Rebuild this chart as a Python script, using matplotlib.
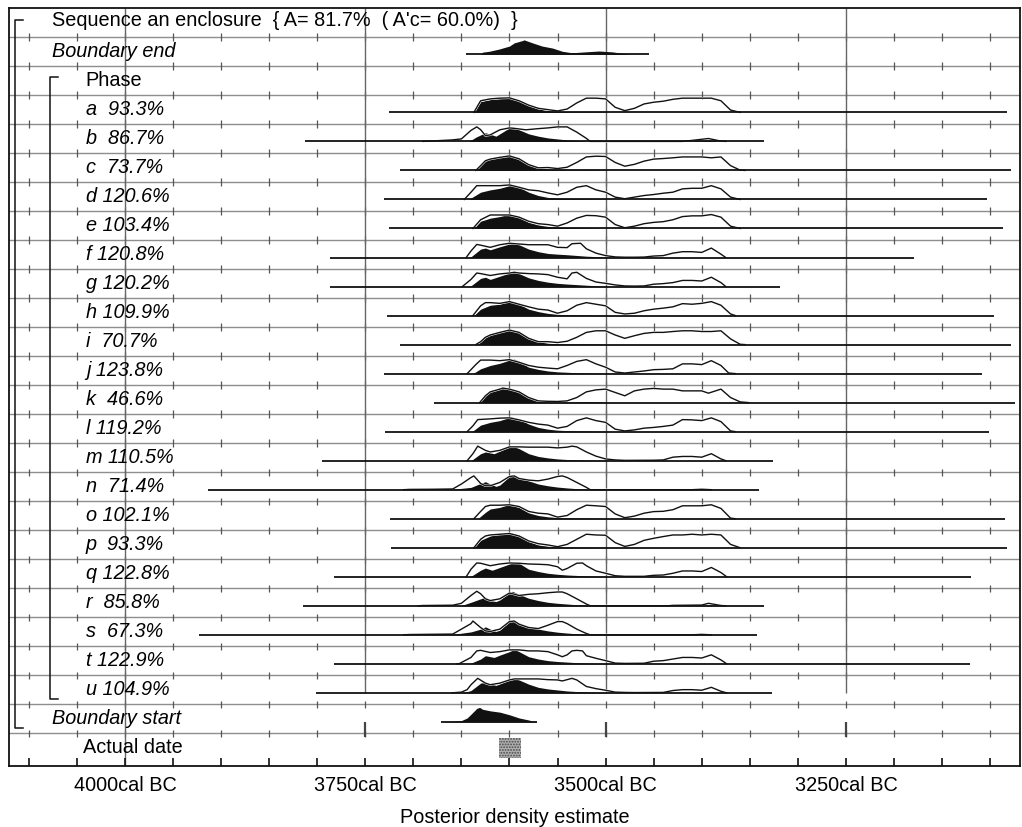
import numpy as np
import matplotlib.pyplot as plt
import matplotlib.patheffects as pe
from matplotlib.transforms import blended_transform_factory

plt.rcParams["font.family"] = ["Liberation Sans", "DejaVu Sans"]
plt.rcParams["hatch.linewidth"] = 0.9

# ============================================================
# DATA  (calendar years BC, heights relative to row maximum)
# ============================================================

SEQUENCE_TITLE = "Sequence an enclosure  { A= 81.7%  ( A'c= 60.0%)  }"

BOUNDARY_END_RANGE = (3645, 3455)
BOUNDARY_END = [(3630, 0), (3628, .15), (3621, .21), (3611, .36), (3600, .57), (3595, .79),
                (3586, .96), (3585, 1.0), (3576, .79), (3566, .57), (3555, .43), (3545, .21),
                (3535, .11), (3521, .17), (3507, .23), (3493, .17), (3479, .04), (3472, 0)]

BOUNDARY_START_RANGE = (3671, 3571)
BOUNDARY_START = [(3671, 0), (3659, .03), (3650, .09), (3644, .27), (3640, .53), (3634, .93),
                  (3631, 1.0), (3628, .87), (3620, .76), (3610, .67), (3600, .49), (3590, .27),
                  (3580, .13), (3575, .04), (3571, 0)]

ACTUAL_DATE = (3611, 3588)

PHASE_NAMES = list("abcdefghijklmnopqrstu")
AGREEMENT = [93.3, 86.7, 73.7, 120.6, 103.4, 120.8, 120.2, 109.9, 70.7, 123.8, 46.6,
             119.2, 110.5, 71.4, 102.1, 93.3, 122.8, 85.8, 67.3, 122.9, 104.9]
RANGE_START = [3725, 3813, 3714, 3730, 3725, 3787, 3787, 3727, 3714, 3731, 3678,
               3729, 3795, 3914, 3724, 3723, 3783, 3815, 3923, 3782, 3801]
RANGE_END = [3082, 3335, 3078, 3103, 3087, 3179, 3319, 3096, 3078, 3108, 3074,
             3101, 3326, 3340, 3085, 3082, 3120, 3335, 3342, 3121, 3327]

A_PRIOR = [(3637, 0), (3630, .80), (3620, .93), (3610, .98), (3600, 1.0), (3590, .80), (3580, .50),
           (3570, .28), (3560, .19), (3550, .10), (3540, .23), (3530, .65), (3520, .98), (3510, .98),
           (3500, .93), (3490, .35), (3480, .12), (3470, .28), (3460, .58), (3450, .70), (3440, .77),
           (3430, .90), (3420, .98), (3410, .98), (3400, .98), (3390, .98), (3380, .80), (3370, .16),
           (3360, 0)]
A_POST = [(3637, 0), (3630, .74), (3620, .88), (3610, .95), (3600, 1.0), (3590, .77), (3580, .47),
          (3570, .25), (3560, .12), (3550, .07), (3540, .05), (3530, .04), (3510, .04), (3500, .02),
          (3495, 0)]

B_PRIOR = [(3690, 0), (3660, .10), (3650, .17), (3640, .76), (3634, 1.0), (3630, .81), (3625, .40),
           (3620, .45), (3610, .80), (3600, .93), (3595, .90), (3583, .80), (3570, .88), (3560, .93),
           (3550, 1.0), (3540, 1.0), (3530, .64), (3520, .21), (3516, 0), (3420, 0), (3410, .07),
           (3393, .20), (3380, .02), (3375, 0)]
B_POST = [(3642, 0), (3635, .29), (3625, .60), (3614, .36), (3600, .93), (3597, 1.0), (3580, .52),
          (3570, .36), (3560, .24), (3550, .17), (3540, .10), (3530, .06), (3520, .02), (3510, 0),
          (3435, 0), (3430, .05), (3400, .05), (3393, .10), (3380, 0)]

C_PRIOR = [(3635, 0), (3630, .33), (3625, .67), (3620, .78), (3610, .90), (3600, 1.0), (3590, .80),
           (3580, .40), (3570, .18), (3560, .20), (3550, .13), (3540, .22), (3530, .55), (3520, .93),
           (3510, .98), (3500, .96), (3490, .55), (3480, .29), (3470, .42), (3460, .64), (3450, .78),
           (3440, .82), (3430, .87), (3420, .93), (3410, .93), (3400, .93), (3390, .87), (3380, .93),
           (3370, .33), (3360, .02), (3355, 0)]
C_POST = [(3635, 0), (3630, .33), (3625, .67), (3620, .78), (3610, .90), (3600, 1.0), (3590, .80),
          (3580, .40), (3570, .18), (3560, .10), (3550, .06), (3540, .05), (3530, .04), (3520, .05),
          (3510, .05), (3500, .02), (3495, 0)]

D_PRIOR = [(3647, 0), (3640, .50), (3634, .95), (3620, .95), (3610, .95), (3600, 1.0), (3590, .84),
           (3580, .66), (3570, .60), (3560, .45), (3550, .32), (3540, .50), (3530, .84), (3520, .95),
           (3510, .66), (3500, .50), (3490, .16), (3480, .05), (3470, .16), (3460, .27), (3450, .34),
           (3440, .43), (3430, .50), (3420, .73), (3410, .77), (3400, .77), (3390, .95), (3380, .73),
           (3370, .16), (3360, 0)]
D_POST = [(3642, 0), (3640, .10), (3630, .50), (3620, .66), (3610, .77), (3600, .95), (3595, 1.0),
          (3590, .84), (3580, .50), (3570, .27), (3560, .14), (3550, .08), (3540, .06), (3530, .05),
          (3520, .04), (3510, .03), (3500, .02), (3495, 0)]

E_PRIOR = [(3638, 0), (3630, .60), (3620, .93), (3610, .93), (3600, .93), (3590, .78), (3580, .50),
           (3570, .33), (3560, .27), (3550, .16), (3540, .38), (3530, .71), (3520, .90), (3510, .88),
           (3500, .78), (3490, .27), (3480, .05), (3470, .16), (3460, .33), (3450, .42), (3440, .47),
           (3430, .60), (3420, .82), (3410, .87), (3400, .87), (3390, .96), (3380, .78), (3370, .16),
           (3360, 0)]
E_POST = [(3637, 0), (3630, .50), (3620, .71), (3610, .82), (3600, 1.0), (3590, .78), (3580, .42),
          (3570, .24), (3560, .14), (3550, .09), (3540, .06), (3530, .05), (3520, .04), (3510, .03),
          (3500, .02), (3495, 0)]

F_PRIOR = [(3645, 0), (3640, .45), (3634, .90), (3630, .85), (3620, .70), (3610, .88), (3600, .98),
           (3590, .93), (3580, .88), (3570, .88), (3560, .88), (3550, .70), (3540, .68), (3535, .95),
           (3526, .98), (3520, .60), (3510, .30), (3500, .13), (3490, .04), (3480, .02), (3470, .02),
           (3460, .03), (3450, .10), (3440, .13), (3430, .30), (3420, .40), (3410, .40), (3400, .35),
           (3390, .65), (3380, .23), (3375, 0)]
F_POST = [(3642, 0), (3640, .05), (3630, .58), (3625, .65), (3620, .53), (3610, .74), (3600, .93),
          (3595, 1.0), (3590, .88), (3580, .58), (3570, .40), (3560, .28), (3550, .23), (3540, .19),
          (3530, .14), (3520, .09), (3510, .06), (3500, .03), (3495, 0)]

G_PRIOR = [(3649, 0), (3640, .49), (3634, .93), (3630, .89), (3620, .76), (3610, .87), (3600, .93),
           (3595, .98), (3590, .93), (3580, .89), (3570, .87), (3560, .82), (3550, .64), (3540, .53),
           (3535, .93), (3530, .98), (3520, .56), (3510, .31), (3500, .22), (3490, .11), (3480, .04),
           (3470, .03), (3460, .04), (3450, .16), (3440, .20), (3430, .27), (3420, .42), (3410, .42),
           (3400, .38), (3390, .64), (3380, .27), (3375, 0)]
G_POST = [(3642, 0), (3640, .05), (3630, .56), (3625, .64), (3620, .49), (3610, .71), (3600, .93),
          (3595, 1.0), (3590, .89), (3580, .60), (3570, .42), (3560, .30), (3550, .22), (3540, .17),
          (3530, .13), (3520, .09), (3510, .05), (3500, .02), (3495, 0)]

H_PRIOR = [(3638, 0), (3630, .67), (3625, .89), (3620, .89), (3610, .84), (3600, .96), (3590, .78),
           (3580, .60), (3570, .44), (3560, .38), (3550, .16), (3540, .33), (3530, .71), (3520, .89),
           (3510, .78), (3500, .67), (3490, .22), (3480, .11), (3470, .16), (3460, .33), (3450, .44),
           (3440, .51), (3430, .60), (3420, .82), (3410, .78), (3400, .84), (3390, .96), (3380, .71),
           (3370, .11), (3365, 0)]
H_POST = [(3637, 0), (3630, .44), (3620, .71), (3610, .78), (3600, 1.0), (3590, .78), (3580, .44),
          (3570, .27), (3560, .15), (3550, .08), (3540, .06), (3530, .05), (3520, .04), (3510, .03),
          (3500, .02), (3495, 0)]

I_PRIOR = [(3635, 0), (3630, .20), (3625, .50), (3620, .66), (3610, .84), (3600, 1.0), (3590, .84),
           (3580, .43), (3570, .20), (3560, .20), (3550, .14), (3540, .23), (3530, .50), (3520, .84),
           (3510, .95), (3500, .95), (3490, .66), (3480, .43), (3470, .61), (3460, .77), (3450, .84),
           (3440, .84), (3430, .90), (3420, .95), (3410, .95), (3400, .90), (3390, .90), (3380, .95),
           (3370, .39), (3360, .02), (3355, 0)]
I_POST = [(3635, 0), (3630, .20), (3625, .50), (3620, .66), (3610, .84), (3600, 1.0), (3590, .84),
          (3580, .43), (3570, .20), (3560, .09), (3550, .05), (3540, .04), (3530, .04), (3520, .05),
          (3510, .04), (3500, .02), (3495, 0)]

J_PRIOR = [(3644, 0), (3635, .62), (3630, .93), (3620, .93), (3610, .89), (3600, .96), (3590, .78),
           (3580, .56), (3570, .44), (3560, .38), (3550, .33), (3540, .56), (3530, .84), (3520, .96),
           (3510, .67), (3500, .44), (3490, .11), (3480, .04), (3470, .11), (3460, .18), (3450, .27),
           (3440, .29), (3430, .33), (3420, .67), (3410, .67), (3400, .62), (3390, .89), (3380, .56),
           (3372, .04), (3365, 0)]
J_POST = [(3638, 0), (3630, .33), (3620, .56), (3610, .71), (3600, .93), (3595, 1.0), (3590, .84),
          (3580, .44), (3570, .29), (3560, .18), (3550, .12), (3540, .09), (3530, .06), (3520, .04),
          (3510, .03), (3500, .02), (3495, 0)]

K_PRIOR = [(3631, 0), (3625, .47), (3620, .74), (3610, .93), (3607, 1.0), (3600, .93), (3590, .74),
           (3580, .35), (3570, .12), (3560, .09), (3550, .08), (3540, .12), (3530, .35), (3520, .74),
           (3510, .88), (3500, .93), (3490, .70), (3480, .47), (3470, .81), (3460, .93), (3450, .98),
           (3440, .93), (3430, .93), (3420, .81), (3410, .81), (3400, .81), (3393, .65), (3380, .93),
           (3370, .35), (3360, .05), (3351, 0)]
K_POST = [(3631, 0), (3625, .47), (3620, .74), (3610, .93), (3607, 1.0), (3600, .93), (3590, .74),
          (3580, .35), (3570, .12), (3560, .06), (3550, .04), (3540, .04), (3530, .05), (3520, .07),
          (3510, .06), (3500, .03), (3495, 0)]

L_PRIOR = [(3644, 0), (3638, .40), (3633, .83), (3620, .88), (3610, .93), (3600, .95), (3590, .81),
           (3580, .64), (3570, .52), (3560, .45), (3550, .24), (3540, .36), (3530, .76), (3520, .95),
           (3510, .76), (3500, .64), (3490, .17), (3480, .05), (3470, .12), (3460, .24), (3450, .29),
           (3440, .36), (3430, .45), (3420, .83), (3410, .81), (3400, .76), (3390, .95), (3380, .69),
           (3370, .05), (3365, 0)]
L_POST = [(3640, 0), (3638, .05), (3630, .45), (3620, .64), (3610, .76), (3600, .98), (3597, 1.0),
          (3590, .88), (3580, .52), (3570, .29), (3560, .17), (3550, .10), (3540, .07), (3530, .05),
          (3520, .04), (3510, .03), (3500, .02), (3495, 0)]

M_PRIOR = [(3644, 0), (3638, .48), (3633, 1.0), (3625, .71), (3620, .60), (3610, .71), (3600, .95),
           (3590, .95), (3580, .93), (3570, .93), (3560, .93), (3550, .88), (3540, .93), (3535, 1.0),
           (3530, .95), (3520, .60), (3510, .31), (3500, .12), (3490, .05), (3480, .02), (3450, .03),
           (3440, .05), (3430, .24), (3420, .29), (3410, .29), (3400, .24), (3390, .48), (3380, .12),
           (3375, 0)]
M_POST = [(3640, 0), (3630, .48), (3625, .60), (3616, .48), (3600, .95), (3597, 1.0), (3590, .83),
          (3580, .48), (3570, .29), (3560, .19), (3550, .12), (3540, .08), (3530, .06), (3520, .04),
          (3510, .03), (3500, .02), (3495, 0)]

N_PRIOR = [(3710, 0), (3704, .02), (3680, .03), (3659, .05), (3650, .39), (3640, .84), (3637, .95),
           (3630, .43), (3625, .27), (3620, .27), (3610, .50), (3600, .91), (3595, .95), (3590, .77),
           (3580, .66), (3570, .61), (3560, .73), (3550, .91), (3545, .95), (3540, .84), (3530, .50),
           (3520, .16), (3516, 0), (3410, 0), (3400, .03), (3390, 0)]
N_POST = [(3710, 0), (3704, .02), (3659, .03), (3640, .16), (3630, .43), (3625, .55), (3620, .39),
          (3614, .23), (3610, .32), (3600, .91), (3597, 1.0), (3590, .84), (3580, .61), (3570, .39),
          (3560, .27), (3550, .18), (3540, .12), (3530, .07), (3520, .04), (3510, .02), (3505, 0),
          (3410, 0), (3400, .03), (3390, 0)]

O_PRIOR = [(3637, 0), (3630, .50), (3625, .84), (3620, .93), (3610, .93), (3600, .96), (3590, .84),
           (3580, .50), (3570, .38), (3560, .33), (3550, .11), (3540, .22), (3530, .62), (3520, .93),
           (3510, .89), (3500, .84), (3490, .33), (3480, .07), (3470, .18), (3460, .38), (3450, .49),
           (3440, .51), (3430, .62), (3420, .89), (3410, .89), (3400, .89), (3390, .96), (3380, .71),
           (3370, .04), (3365, 0)]
O_POST = [(3633, 0), (3625, .44), (3620, .67), (3610, .78), (3600, 1.0), (3590, .78), (3580, .40),
          (3570, .22), (3560, .13), (3550, .08), (3540, .06), (3530, .05), (3520, .04), (3510, .03),
          (3500, .02), (3495, 0)]

P_PRIOR = [(3637, 0), (3630, .58), (3625, .81), (3620, .88), (3610, .93), (3600, .98), (3590, .81),
           (3580, .47), (3570, .28), (3560, .19), (3550, .07), (3540, .23), (3530, .58), (3520, .93),
           (3510, .88), (3500, .86), (3490, .35), (3480, .09), (3470, .23), (3460, .51), (3450, .65),
           (3440, .77), (3430, .88), (3420, .88), (3410, .93), (3400, .88), (3390, .93), (3380, .88),
           (3370, .23), (3360, 0)]
P_POST = [(3637, 0), (3630, .51), (3620, .81), (3610, .93), (3600, .98), (3597, 1.0), (3590, .81),
          (3580, .42), (3570, .19), (3560, .10), (3550, .07), (3540, .05), (3530, .04), (3520, .04),
          (3510, .03), (3500, .02), (3495, 0)]

Q_PRIOR = [(3645, 0), (3640, .52), (3634, .95), (3630, .93), (3620, .76), (3610, .88), (3600, .95),
           (3590, .93), (3580, .88), (3570, .86), (3560, .83), (3550, .69), (3545, .45), (3540, .57),
           (3530, .93), (3524, .95), (3520, .76), (3510, .40), (3500, .24), (3490, .07), (3480, .03),
           (3460, .03), (3450, .10), (3440, .12), (3430, .24), (3420, .40), (3410, .40), (3400, .36),
           (3390, .64), (3380, .29), (3374, 0)]
Q_POST = [(3642, 0), (3640, .03), (3630, .45), (3625, .60), (3618, .45), (3610, .64), (3600, .88),
          (3595, 1.0), (3590, .93), (3580, .52), (3570, .36), (3560, .24), (3550, .17), (3540, .12),
          (3530, .09), (3520, .06), (3510, .04), (3500, .02), (3495, 0)]

R_PRIOR = [(3695, 0), (3690, .02), (3659, .04), (3650, .17), (3640, .71), (3634, 1.0), (3630, .83),
           (3625, .48), (3620, .36), (3610, .48), (3600, .88), (3590, .71), (3580, .79), (3570, .83),
           (3560, .90), (3550, .95), (3545, .95), (3540, .83), (3530, .48), (3520, .12), (3516, 0),
           (3435, 0), (3430, .03), (3400, .05), (3393, .17), (3380, .02), (3375, 0)]
R_POST = [(3655, 0), (3650, .02), (3640, .24), (3630, .48), (3625, .60), (3620, .36), (3614, .29),
          (3610, .40), (3600, .90), (3597, 1.0), (3590, .79), (3580, .52), (3570, .36), (3560, .24),
          (3550, .17), (3540, .12), (3530, .07), (3520, .04), (3510, .02), (3505, 0), (3435, 0),
          (3430, .03), (3400, .03), (3393, .06), (3380, 0)]

S_PRIOR = [(3710, 0), (3704, .02), (3659, .05), (3650, .39), (3640, .77), (3638, .95), (3630, .50),
           (3625, .27), (3620, .23), (3610, .39), (3600, .91), (3595, .95), (3590, .73), (3580, .50),
           (3570, .43), (3560, .66), (3550, .91), (3545, .91), (3540, .77), (3530, .39), (3520, .09),
           (3516, 0), (3410, 0), (3400, .03), (3390, 0)]
S_POST = [(3710, 0), (3704, .02), (3659, .03), (3640, .20), (3630, .39), (3625, .55), (3620, .39),
          (3614, .23), (3610, .32), (3600, .91), (3597, 1.0), (3590, .82), (3580, .57), (3570, .39),
          (3560, .27), (3550, .18), (3540, .12), (3530, .07), (3520, .04), (3510, .02), (3505, 0),
          (3410, 0), (3400, .03), (3390, 0)]

T_PRIOR = [(3655, 0), (3652, .02), (3640, .44), (3634, .89), (3630, .93), (3620, .78), (3610, .84),
           (3600, .96), (3590, .96), (3580, .89), (3570, .89), (3560, .84), (3550, .62), (3545, .49),
           (3540, .62), (3535, .89), (3530, .93), (3524, .89), (3520, .56), (3510, .38), (3500, .22),
           (3490, .05), (3480, .03), (3460, .04), (3450, .18), (3440, .22), (3430, .33), (3420, .44),
           (3410, .44), (3400, .40), (3390, .62), (3380, .27), (3374, 0)]
T_POST = [(3642, 0), (3640, .05), (3630, .33), (3625, .56), (3616, .44), (3610, .60), (3600, .84),
          (3595, 1.0), (3590, .84), (3580, .49), (3570, .33), (3560, .22), (3550, .16), (3540, .12),
          (3530, .08), (3520, .05), (3510, .03), (3500, .02), (3495, 0)]

U_PRIOR = [(3660, 0), (3656, .02), (3650, .05), (3644, .22), (3640, .56), (3633, 1.0), (3625, .67),
           (3620, .56), (3610, .67), (3600, .89), (3595, .96), (3590, .96), (3580, .96), (3570, .96),
           (3560, .91), (3550, .89), (3545, .82), (3540, .91), (3535, 1.0), (3530, .89), (3520, .44),
           (3510, .29), (3500, .18), (3490, .05), (3480, .03), (3470, .02), (3440, .03), (3430, .16),
           (3420, .22), (3410, .22), (3400, .18), (3390, .38), (3380, .11), (3374, 0)]
U_POST = [(3650, 0), (3647, .03), (3640, .16), (3630, .67), (3625, .73), (3614, .51), (3600, .89),
          (3597, 1.0), (3590, .89), (3580, .60), (3570, .38), (3560, .27), (3550, .20), (3540, .13),
          (3530, .09), (3520, .06), (3510, .04), (3500, .02), (3495, 0)]

PRIORS = [A_PRIOR, B_PRIOR, C_PRIOR, D_PRIOR, E_PRIOR, F_PRIOR, G_PRIOR, H_PRIOR, I_PRIOR,
          J_PRIOR, K_PRIOR, L_PRIOR, M_PRIOR, N_PRIOR, O_PRIOR, P_PRIOR, Q_PRIOR, R_PRIOR,
          S_PRIOR, T_PRIOR, U_PRIOR]
POSTS = [A_POST, B_POST, C_POST, D_POST, E_POST, F_POST, G_POST, H_POST, I_POST, J_POST,
         K_POST, L_POST, M_POST, N_POST, O_POST, P_POST, Q_POST, R_POST, S_POST, T_POST, U_POST]

MAJOR_TICKS = [4000, 3750, 3500, 3250]
TICK_STEP = 50

# ============================================================
# LAYOUT
# ============================================================

FIG_W, FIG_H = 1022, 827
AX_LEFT, AX_RIGHT, AX_TOP, AX_BOTTOM = 9, 1020, 7.9, 765.7  # pixels
X_LEFT, X_RIGHT = 4120.6, 3068.9
N_ROWS = 26.11
BASE_OFF = 0.6
PEAK_H = 0.5
FONT_SIZE = 14.3
INK = "#111111"


def draw_distribution(ax, row, lo, hi, prior=None, post=None):
    base = row + BASE_OFF
    if post:
        yrs, h = zip(*post)
        ax.fill_between(yrs, base, base - PEAK_H * np.array(h),
                        color=INK, lw=0, zorder=3)
    if prior:
        yrs, h = zip(*prior)
        ax.plot(yrs, base - PEAK_H * np.array(h), color=INK, lw=1.0, zorder=4,
                solid_joinstyle="round",
                path_effects=[pe.withStroke(linewidth=1.7, foreground="white")])
    ax.plot([lo, hi], [base, base], color=INK, lw=1.3, zorder=5,
            solid_capstyle="butt")


def main():
    fig = plt.figure(figsize=(FIG_W / 100, FIG_H / 100), dpi=100)
    ax = fig.add_axes([
        AX_LEFT / FIG_W,
        1 - AX_BOTTOM / FIG_H,
        (AX_RIGHT - AX_LEFT) / FIG_W,
        (AX_BOTTOM - AX_TOP) / FIG_H,
    ])
    ax.set_xlim(X_LEFT, X_RIGHT)
    ax.set_ylim(N_ROWS, 0)

    tick_years = np.arange(4100, 3099, -TICK_STEP)

    # row separators with small ticks
    for r in range(1, 26):
        ax.axhline(r, color="#8e8e8e", lw=1.0, zorder=1)
        ax.vlines(tick_years, r - 0.13, r + 0.13, color="#555555", lw=0.9, zorder=1)

    # vertical reference lines
    ax.vlines(4000, 0, N_ROWS, color="#666666", lw=1.0, zorder=1)
    ax.vlines(MAJOR_TICKS[1:], 0, 23 + BASE_OFF, color="#666666", lw=1.0, zorder=1)
    ax.vlines(MAJOR_TICKS[1:], 24 + BASE_OFF, 25.12, color="#444444", lw=1.6, zorder=1)

    # distributions
    draw_distribution(ax, 1, *BOUNDARY_END_RANGE, post=BOUNDARY_END)
    for i in range(len(PHASE_NAMES)):
        draw_distribution(ax, 3 + i, RANGE_START[i], RANGE_END[i], PRIORS[i], POSTS[i])
    draw_distribution(ax, 24, *BOUNDARY_START_RANGE, post=BOUNDARY_START)

    ax.fill_between(ACTUAL_DATE, 25.15, 25.84, facecolor="#b0b0b0",
                    edgecolor="#4a4a4a", hatch="......", lw=0, zorder=3)

    # labels
    tx = blended_transform_factory(ax.transAxes, ax.transData)
    ty = 0.5
    ax.text(0.0425, 0 + 0.45, SEQUENCE_TITLE, transform=tx, va="center", fontsize=FONT_SIZE)
    ax.text(0.0425, 1 + ty, "Boundary end", transform=tx, va="center",
            fontsize=FONT_SIZE, style="italic")
    ax.text(0.076, 2 + ty, "Phase", transform=tx, va="center", fontsize=FONT_SIZE)
    for i, (name, val) in enumerate(zip(PHASE_NAMES, AGREEMENT)):
        ax.text(0.076, 3 + i + ty, f"{name} {val:5.1f}%", transform=tx, va="center",
                fontsize=FONT_SIZE, style="italic")
    ax.text(0.0425, 24 + ty, "Boundary start", transform=tx, va="center",
            fontsize=FONT_SIZE, style="italic")
    ax.text(0.073, 25 + ty, "Actual date", transform=tx, va="center", fontsize=FONT_SIZE)

    # brackets
    ax.plot([0.0138, 0.0059, 0.0059, 0.0138], [0.42, 0.42, 24.81, 24.81],
            transform=tx, color=INK, lw=1.1, clip_on=False)
    ax.plot([0.0485, 0.0406, 0.0406, 0.0485], [2.38, 2.38, 23.81, 23.81],
            transform=tx, color=INK, lw=1.1, clip_on=False)

    # axis
    ax.set_xticks(tick_years)
    ax.set_xticklabels([f"{y}cal BC" if y in MAJOR_TICKS else "" for y in tick_years],
                       fontsize=FONT_SIZE)
    ax.tick_params(axis="x", direction="in", length=5.8, width=1.2, pad=7.5, color=INK)
    ax.set_yticks([])
    ax.set_xlabel("Posterior density estimate", fontsize=FONT_SIZE, labelpad=9.5)
    for sp in ax.spines.values():
        sp.set_linewidth(1.3)
        sp.set_color(INK)

    fig.savefig("out.png", dpi=100)
    plt.close(fig)


if __name__ == "__main__":
    main()
